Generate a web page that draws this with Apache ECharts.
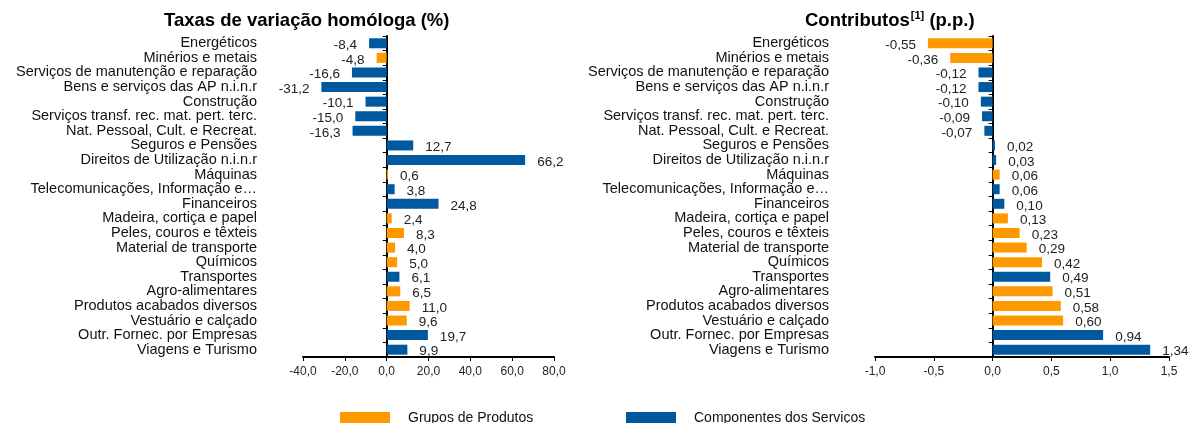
<!DOCTYPE html>
<html>
<head>
<meta charset="utf-8">
<script src="https://cdn.jsdelivr.net/npm/echarts@6/dist/echarts.min.js"></script>
<style>
html, body { margin: 0; background: #fff; }
#chart { width: 1191px; height: 423px; }
</style>
</head>
<body>
<div id="chart"></div>
<script>
var categories = ['Energéticos', 'Minérios e metais', 'Serviços de manutenção e reparação',
    'Bens e serviços das AP n.i.n.r', 'Construção', 'Serviços transf. rec. mat. pert. terc.',
    'Nat. Pessoal, Cult. e Recreat.', 'Seguros e Pensões', 'Direitos de Utilização n.i.n.r',
    'Máquinas', 'Telecomunicações, Informação e…', 'Financeiros', 'Madeira, cortiça e papel',
    'Peles, couros e têxteis', 'Material de transporte', 'Químicos', 'Transportes',
    'Agro-alimentares', 'Produtos acabados diversos', 'Vestuário e calçado',
    'Outr. Fornec. por Empresas', 'Viagens e Turismo'];

// taxas de variação homóloga (%)
var taxas = [-8.4, -4.8, -16.6, -31.2, -10.1, -15.0, -16.3, 12.7, 66.2, 0.6, 3.8, 24.8,
    2.4, 8.3, 4.0, 5.0, 6.1, 6.5, 11.0, 9.6, 19.7, 9.9];
// contributos (p.p.)
var contributos = [-0.55, -0.36, -0.12, -0.12, -0.10, -0.09, -0.07, 0.02, 0.03, 0.06, 0.06, 0.10,
    0.13, 0.23, 0.29, 0.42, 0.49, 0.51, 0.58, 0.60, 0.94, 1.34];

// P = Grupos de Produtos, S = Componentes dos Serviços (cor de cada barra)
var gruposTaxas = ['S', 'P', 'S', 'S', 'S', 'S', 'S', 'S', 'S', 'P', 'S', 'S',
    'P', 'P', 'P', 'P', 'S', 'P', 'P', 'P', 'S', 'S'];
var gruposContrib = ['P', 'P', 'S', 'S', 'S', 'S', 'S', 'S', 'S', 'P', 'S', 'S',
    'P', 'P', 'P', 'P', 'S', 'P', 'P', 'P', 'S', 'S'];

var eixoTaxas = [-40, 80, 20];       // min, max, intervalo
var eixoContrib = [-1, 1.5, 0.5];

var nomeProdutos = 'Grupos de Produtos';
var nomeServicos = 'Componentes dos Serviços';
var LARANJA = '#FF9900';
var AZUL = '#00599F';
var FONTE = 'Liberation Sans, Arial, sans-serif';

function fmt(v, casas) {
    return v.toFixed(casas).replace('.', ',');
}

function separa(valores, grupos, g) {
    return valores.map(function(v, i) {
        return grupos[i] === g ? v : '-';
    });
}

function eixoX(grid, eixo) {
    return {
        gridIndex: grid, type: 'value',
        min: eixo[0], max: eixo[1], interval: eixo[2],
        axisLine: { show: true, onZero: false, lineStyle: { color: '#000', width: 2 } },
        axisTick: { show: true, length: 4, lineStyle: { color: '#000' } },
        splitLine: { show: false },
        axisLabel: {
            margin: 9, fontSize: 12, color: '#222', fontFamily: FONTE,
            formatter: function(v) { return fmt(v, 1); }
        }
    };
}

function eixosY(grid) {
    return [{
        gridIndex: grid, type: 'category', data: categories, inverse: true, position: 'left',
        axisLine: { show: false, onZero: false },
        axisTick: { show: false },
        axisLabel: { interval: 0, margin: 46, fontSize: 14.5, color: '#111', fontFamily: FONTE }
    }, {
        // linha do zero com marcas
        gridIndex: grid, type: 'category', data: categories, inverse: true, position: 'left',
        axisLine: { show: true, onZero: true, lineStyle: { color: '#000', width: 2 } },
        axisTick: { show: true, interval: 0, length: 4, lineStyle: { color: '#000' } },
        axisLabel: { show: false }
    }];
}

function serie(nome, cor, grid, dados, casas) {
    return {
        name: nome, type: 'bar',
        xAxisIndex: grid, yAxisIndex: grid * 2,
        data: dados, barWidth: 10, barGap: '-100%',
        itemStyle: { color: cor },
        label: {
            show: true, position: 'outside', distance: 12, offset: [0, 2],
            fontSize: 13.5, color: '#222', fontFamily: FONTE,
            formatter: function(p) { return fmt(p.value, casas); }
        }
    };
}

function legenda(nome, esquerda) {
    return {
        data: [nome], left: esquerda, top: 411, padding: 0,
        icon: 'rect', itemWidth: 50, itemHeight: 12, selectedMode: false,
        textStyle: { fontSize: 14, color: '#111', fontFamily: FONTE, padding: [0, 0, 0, 13] }
    };
}

var myChart = echarts.init(document.getElementById('chart'));

var option = {
    animation: false,
    backgroundColor: '#fff',
    textStyle: { fontFamily: FONTE },
    title: [{
        text: 'Taxas de variação homóloga (%)', left: 164, top: 11, padding: 0,
        textStyle: { fontSize: 18.5, fontWeight: 'bold', color: '#000', fontFamily: FONTE }
    }, {
        text: '{a|Contributos}{s|[1]}{a| (p.p.)}', left: 805, top: 10, padding: 0,
        textStyle: {
            fontSize: 18, lineHeight: 22, fontFamily: FONTE,
            rich: {
                a: { fontSize: 18.5, fontWeight: 'bold', color: '#000', fontFamily: FONTE, lineHeight: 22 },
                s: { fontSize: 11, fontWeight: 'bold', color: '#000', fontFamily: FONTE, verticalAlign: 'top', lineHeight: 22, padding: [0, 0, 6, 1] }
            }
        }
    }],
    legend: [legenda(nomeProdutos, 340), legenda(nomeServicos, 626)],
    grid: [
        { left: 303, top: 36, width: 251, height: 321 },
        { left: 875, top: 36, width: 294, height: 321 }
    ],
    xAxis: [eixoX(0, eixoTaxas), eixoX(1, eixoContrib)],
    yAxis: eixosY(0).concat(eixosY(1)),
    series: [
        serie(nomeProdutos, LARANJA, 0, separa(taxas, gruposTaxas, 'P'), 1),
        serie(nomeServicos, AZUL, 0, separa(taxas, gruposTaxas, 'S'), 1),
        serie(nomeProdutos, LARANJA, 1, separa(contributos, gruposContrib, 'P'), 2),
        serie(nomeServicos, AZUL, 1, separa(contributos, gruposContrib, 'S'), 2)
    ]
};

myChart.setOption(option);
</script>
</body>
</html>
